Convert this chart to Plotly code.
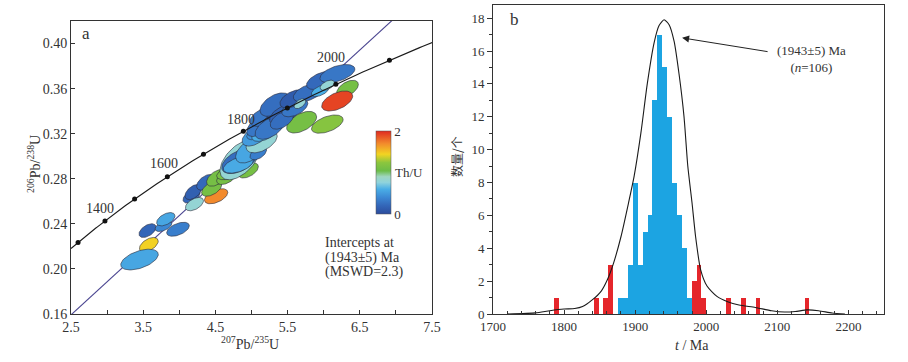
import numpy as np
import plotly.graph_objects as go
from plotly.colors import sample_colorscale

W, H = 908, 362
FONT = "Liberation Serif"
TXT = "#333333"

# ---------------- data: panel a (concordia) ----------------
LAMBDA_238 = 1.55125e-10
LAMBDA_235 = 9.8485e-10
concordia_ages = [1300, 1400, 1500, 1600, 1700, 1800, 1900, 2000, 2100]   # Ma, dots
concordia_label_ages = [1400, 1600, 1800, 2000]
concordia_age_span = [1272, 2175]
upper_intercept = 1943
lower_intercept = 130

ell_x   = [3.578, 3.449, 3.56, 3.982, 3.78, 3.813, 4.17, 4.194, 4.367, 4.51, 4.448, 4.21, 4.517, 4.656,
           4.725, 4.956, 4.84, 4.83, 4.817, 4.98, 5.094, 5.141, 5.05, 5.094, 5.176, 5.094, 5.187, 5.30, 5.25,
           5.694, 6.05, 5.35, 5.326, 5.45, 5.42, 5.60, 5.579, 5.787, 5.67, 6.33, 6.187, 5.97, 6.19, 5.95, 6.05]
ell_y   = [0.2215, 0.2083, 0.234, 0.2352, 0.2379, 0.2441, 0.2644, 0.2682, 0.2769, 0.2645, 0.2712, 0.2575, 0.2808, 0.2816,
           0.2858, 0.2874, 0.2969, 0.2956, 0.2924, 0.3050, 0.3027, 0.3130, 0.3180, 0.3206, 0.3206, 0.3264, 0.3354, 0.3310, 0.3250,
           0.3302, 0.3285, 0.3413, 0.3458, 0.337, 0.3320, 0.343, 0.3509, 0.3564, 0.3466, 0.360, 0.349, 0.3673, 0.3733, 0.358, 0.363]
ell_sx  = [0.13, 0.26, 0.118, 0.157, 0.115, 0.127, 0.118, 0.115, 0.127, 0.162, 0.139, 0.125, 0.139, 0.139,
           0.208, 0.139, 0.277, 0.243, 0.208, 0.20, 0.115, 0.215, 0.18, 0.16, 0.173, 0.16, 0.208, 0.16, 0.20,
           0.208, 0.219, 0.139, 0.208, 0.20, 0.16, 0.18, 0.185, 0.208, 0.08, 0.15, 0.215, 0.208, 0.242, 0.12, 0.10]
ell_sy  = [0.0064, 0.0092, 0.0061, 0.0062, 0.0047, 0.0059, 0.0060, 0.0067, 0.0070, 0.0067, 0.0067, 0.0059, 0.0074, 0.0067,
           0.0067, 0.0067, 0.0178, 0.0110, 0.0074, 0.0110, 0.0059, 0.0100, 0.0090, 0.0060, 0.0074, 0.0089, 0.0089, 0.0080, 0.0100,
           0.0096, 0.0081, 0.0089, 0.0104, 0.0090, 0.0080, 0.0080, 0.0081, 0.0081, 0.0044, 0.0074, 0.0089, 0.0081, 0.0081, 0.0050, 0.0045]
ell_rho = [0.5] * 16 + [0.55, 0.5, 0.5] + [0.5] * 26
ell_thu = [1.45, 0.56, 0.2, 0.34, 0.4, 0.56, 0.2, 0.15, 0.22, 1.7, 1.1, 0.8, 1.1, 1.1,
           1.12, 1.1, 0.8, 0.25, 0.58, 0.56, 0.34, 0.8, 0.5, 0.45, 0.6, 0.3, 0.3, 0.2, 0.3,
           1.1, 1.2, 0.12, 0.25, 0.18, 0.25, 0.3, 0.12, 0.25, 0.8, 1.1, 1.92, 0.22, 0.3, 0.6, 0.8]

thu_scale = [[0.0, "#2c4c9c"], [0.1, "#3366b8"], [0.2, "#3c88d4"], [0.3, "#4aaee6"],
             [0.38, "#8fd3dc"], [0.45, "#9fd6c0"], [0.52, "#6cbc48"], [0.62, "#8cc63e"],
             [0.72, "#f2d422"], [0.85, "#f28a2c"], [1.0, "#e02a20"]]

# ---------------- data: panel b (histogram) ----------------
blue_ages   = [1879.5, 1886.4, 1893.3, 1900.2, 1907.1, 1914.0, 1920.9, 1927.8, 1934.7, 1941.6,
               1948.5, 1955.4, 1962.3, 1969.2, 1976.1]
blue_counts = [1, 1, 3, 8, 3, 5, 6, 13, 17, 15, 12, 8, 6, 4, 1]
red_ages    = [1789.8, 1845.0, 1858.8, 1865.7, 1982.9, 1989.8, 1996.7, 2031.3, 2052.0, 2072.7, 2141.7]
red_counts  = [1, 1, 1, 3, 2, 3, 1, 1, 1, 1, 1]
bin_width = 6.9

pdf_ages = [1720, 1760, 1780, 1800, 1815, 1826, 1840, 1852, 1861, 1869.6, 1880, 1890.6, 1898.6, 1908,
            1917, 1926.6, 1933.6, 1940.6, 1947.7, 1954.7, 1961.7, 1968.7, 1974, 1980, 1985, 1992,
            2001, 2015, 2030, 2046, 2069, 2092, 2110, 2125, 2142, 2158, 2177, 2195]
pdf_vals = [0, 0.07, 0.2, 0.3, 0.33, 0.45, 0.87, 1.38, 2.1, 3.1, 4.7, 6.75, 8.4, 11.0,
            14.0, 16.5, 17.55, 17.9, 17.6, 16.6, 14.6, 12.0, 9.0, 6.75, 4.7, 2.7,
            1.7, 1.07, 0.75, 0.55, 0.4, 0.2, 0.12, 0.15, 0.25, 0.2, 0.06, 0]


def conc(t_ma):
    t = np.asarray(t_ma, dtype=float) * 1e6
    return np.exp(LAMBDA_235 * t) - 1, np.exp(LAMBDA_238 * t) - 1


fig = go.Figure()

# discordia line (below ellipses)
x_lo, y_lo = conc(lower_intercept)
x_up, y_up = conc(upper_intercept)
slope = (y_up - y_lo) / (x_up - x_lo)
dx = np.array([2.5, 7.5])
fig.add_trace(go.Scatter(x=dx, y=y_lo + slope * (dx - x_lo), mode="lines",
                         line=dict(color="#4a4590", width=1.1), hoverinfo="skip",
                         showlegend=False, xaxis="x", yaxis="y"))

# error ellipses
tt = np.linspace(0, 2 * np.pi, 72)
cols = sample_colorscale(thu_scale, [v / 2 for v in ell_thu])
for cx, cy, sx, sy, r, c in zip(ell_x, ell_y, ell_sx, ell_sy, ell_rho, cols):
    ex = cx + sx * np.cos(tt)
    ey = cy + sy * (r * np.cos(tt) + np.sqrt(1 - r * r) * np.sin(tt))
    fig.add_trace(go.Scatter(x=ex, y=ey, mode="lines", fill="toself", fillcolor=c,
                             line=dict(color="#2b2b3a", width=0.6), hoverinfo="skip",
                             showlegend=False, xaxis="x", yaxis="y"))

# concordia curve and age dots
ages_line = np.linspace(concordia_age_span[0], concordia_age_span[1], 200)
cxl, cyl = conc(ages_line)
fig.add_trace(go.Scatter(x=cxl, y=cyl, mode="lines", line=dict(color="#1a1a1a", width=1.1),
                         hoverinfo="skip", showlegend=False, xaxis="x", yaxis="y"))
cdx, cdy = conc(concordia_ages)
fig.add_trace(go.Scatter(x=cdx, y=cdy, mode="markers", marker=dict(color="#111111", size=5),
                         hoverinfo="skip", showlegend=False, xaxis="x", yaxis="y"))

# colorbar (dummy trace)
fig.add_trace(go.Scatter(x=[None], y=[None], mode="markers", xaxis="x", yaxis="y", showlegend=False,
                         marker=dict(color=[0], cmin=0, cmax=2, colorscale=thu_scale, showscale=True,
                                     colorbar=dict(x=376 / W, xanchor="left", y=(H - 172.5) / H, yanchor="middle",
                                                   len=83 / H, lenmode="fraction", thickness=15,
                                                   thicknessmode="pixels", tickvals=[0, 2], ticktext=["0", "2"],
                                                   ticks="",
                                                   tickfont=dict(family=FONT, size=13, color=TXT),
                                                   outlinewidth=0.5, outlinecolor="#555", xpad=0, ypad=0))))

# ---------------- panel b ----------------
fig.add_trace(go.Bar(x=blue_ages, y=blue_counts, width=bin_width, marker=dict(color="#1ca4e2", line=dict(width=0)),
                     xaxis="x2", yaxis="y2", showlegend=False, hoverinfo="skip"))
fig.add_trace(go.Bar(x=red_ages, y=red_counts, width=bin_width, marker=dict(color="#e5262b", line=dict(width=0)),
                     xaxis="x2", yaxis="y2", showlegend=False, hoverinfo="skip"))
fig.add_trace(go.Scatter(x=pdf_ages, y=pdf_vals, mode="lines", line=dict(color="#1a1a1a", width=1.1, shape="spline",
                                                                          smoothing=0.6),
                         xaxis="x2", yaxis="y2", showlegend=False, hoverinfo="skip"))

tickfont = dict(family=FONT, size=14, color=TXT)
tickfont_b = dict(family=FONT, size=13, color=TXT)

fig.update_layout(
    width=W, height=H, margin=dict(l=0, r=0, t=0, b=0),
    paper_bgcolor="white", plot_bgcolor="white", barmode="overlay", bargap=0,
    xaxis=dict(domain=[71 / W, 432 / W], range=[2.5, 7.5], tickvals=[2.5, 3.5, 4.5, 5.5, 6.5, 7.5],
               ticktext=["2.5", "3.5", "4.5", "5.5", "6.5", "7.5"], ticks="inside", ticklen=4,
               tickcolor="#333", minor=dict(dtick=0.5, tick0=2.5, ticks="inside", ticklen=4, tickcolor="#333"),
               showline=True, linecolor="#333", linewidth=1, mirror=True, showgrid=False, zeroline=False,
               tickfont=tickfont, automargin=False, anchor="y"),
    yaxis=dict(domain=[(H - 314) / H, (H - 21) / H], range=[0.16, 0.42],
               tickvals=[0.16, 0.20, 0.24, 0.28, 0.32, 0.36, 0.40],
               ticktext=["0.16", "0.20", "0.24", "0.28", "0.32", "0.36", "0.40"],
               ticks="inside", ticklen=4, tickcolor="#333", showline=True, linecolor="#333", linewidth=1,
               mirror=True, showgrid=False, zeroline=False, tickfont=tickfont, automargin=False, anchor="x"),
    xaxis2=dict(domain=[493 / W, 884 / W], range=[1700, 2250], dtick=100, tick0=1700, ticks="inside", ticklen=4,
                tickcolor="#333", minor=dict(dtick=20, tick0=1700, ticks="inside", ticklen=3, tickcolor="#333"),
                showline=True, linecolor="#333", linewidth=1, mirror=True, showgrid=False, zeroline=False,
                tickfont=tickfont_b, automargin=False, anchor="y2"),
    yaxis2=dict(domain=[(H - 314) / H, (H - 5) / H], range=[0, 18.8], dtick=2, tick0=0, ticks="outside",
                ticklen=5, tickcolor="#333", minor=dict(dtick=1, ticks="outside", ticklen=3, tickcolor="#333"),
                showline=True, linecolor="#333", linewidth=1, mirror=True, showgrid=False, zeroline=False,
                tickfont=tickfont_b, automargin=False, anchor="x2"),
)


def pann(px, py, text, size=14, family=FONT, xanchor="center", angle=0):
    return dict(x=px / W, y=(H - py) / H, xref="paper", yref="paper", text=text, showarrow=False,
                xanchor=xanchor, yanchor="middle", textangle=angle,
                font=dict(family=family, size=size, color=TXT))


ann = []
# concordia age labels
label_offsets = {1400: (-5, 12), 1600: (-3, 13), 1800: (-2, 12), 2000: (-5, 27)}
for a in concordia_label_ages:
    lx, ly = conc(a)
    ox, oy = label_offsets[a]
    ann.append(dict(x=float(lx), y=float(ly), xref="x", yref="y", text=str(a), showarrow=False,
                    xanchor="center", yanchor="middle",
                    xshift=ox, yshift=oy, font=dict(family=FONT, size=14, color=TXT)))
# intercept text
for txt, py in [("Intercepts at", 242.7), (f"({upper_intercept}±5) Ma", 257.5), ("(MSWD=2.3)", 271.5)]:
    ann.append(pann(323, py, txt, xanchor="left"))
ann.append(pann(393, 172, "Th/U", size=13, xanchor="left"))
ann.append(pann(86, 33, "a", size=17))
ann.append(pann(514, 20, "b", size=17))
ann.append(pann(34, 164, "<sup>206</sup>Pb/<sup>238</sup>U", angle=-90))
ann.append(pann(250, 343, "<sup>207</sup>Pb/<sup>235</sup>U"))
ann.append(pann(457, 157, "数量/个", size=12, family="Noto Sans CJK SC", angle=-90))
ann.append(pann(692, 345, "<i>t</i> / Ma"))
ann.append(pann(811, 59, f"({upper_intercept}±5) Ma<br>(<i>n</i>=106)", size=13))
# arrow
ann.append(dict(x=1966, y=16.8, xref="x2", yref="y2", text="", showarrow=True, ax=87, ay=14,
                arrowhead=2, arrowsize=1.4, arrowwidth=1, arrowcolor="#222"))
fig.update_layout(annotations=ann)

fig.write_html("out.html", config={"displayModeBar": False},
               post_script="document.body.style.margin='0px';")
